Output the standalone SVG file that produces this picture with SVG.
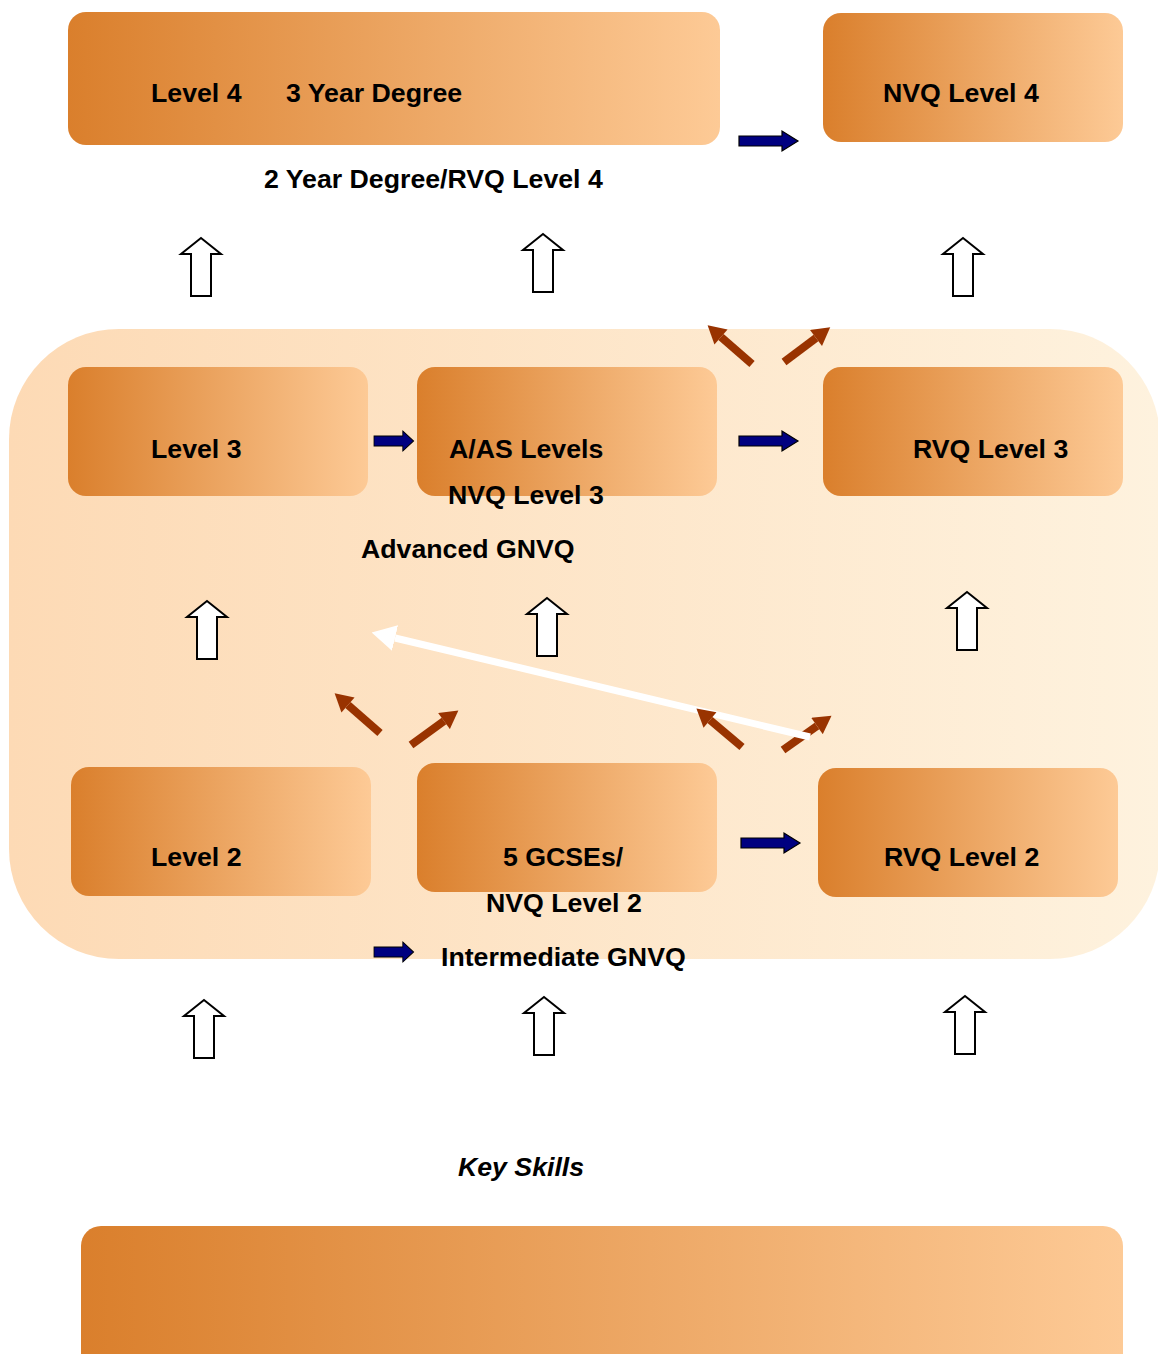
<svg xmlns="http://www.w3.org/2000/svg" width="1158" height="1354" viewBox="0 0 1158 1354">
<defs>
<linearGradient id="gBox" x1="0" y1="0" x2="1" y2="0">
<stop offset="0" stop-color="#DA7F2C"/>
<stop offset="1" stop-color="#FDCA96"/>
</linearGradient>
<linearGradient id="gBg" x1="0" y1="0" x2="1" y2="0">
<stop offset="0" stop-color="#FDDAB5"/>
<stop offset="1" stop-color="#FEF2DE"/>
</linearGradient>
<marker id="mBrown" markerUnits="userSpaceOnUse" markerWidth="20" markerHeight="20" refX="0" refY="9" orient="auto" viewBox="0 0 16 18">
<path d="M0,0 L16,9 L0,18 Z" fill="#993300"/>
</marker>
<marker id="mWhite" markerUnits="userSpaceOnUse" markerWidth="24" markerHeight="26" refX="0" refY="13" orient="auto" viewBox="0 0 24 26">
<path d="M0,0 L24,13 L0,26 Z" fill="#FFFFFF"/>
</marker>
<path id="blue" d="M0,-5 L43,-5 L43,-10 L59,0 L43,10 L43,5 L0,5 Z"/>
<path id="hollow" d="M0,0 L20,16 L10,16 L10,58 L-10,58 L-10,16 L-20,16 Z"/>
</defs>
<style>
.box{fill:url(#gBox)}
.t{font-family:"Liberation Sans",Arial,sans-serif;font-weight:bold;font-size:26.7px;fill:#000}
.bl{fill:#000080;stroke:#000;stroke-width:1.2}
.ho{fill:#FFFFFF;stroke:#000;stroke-width:2}
.br{stroke:#993300;stroke-width:8;fill:none;marker-end:url(#mBrown)}
.wh{stroke:#FFFFFF;stroke-width:7;fill:none;marker-end:url(#mWhite)}
</style>
<rect x="0" y="0" width="1158" height="1354" fill="#FFFFFF"/>
<rect id="background" x="9" y="329" width="1151" height="630" rx="110" ry="110" fill="url(#gBg)"/>

<g id="n-level4"><rect class="box" x="68" y="12" width="652" height="133" rx="18"/><text class="t" x="151" y="102">Level 4</text><text class="t" x="286" y="102">3 Year Degree</text></g>
<g id="n-nvq4"><rect class="box" x="823" y="13" width="300" height="129" rx="18"/><text class="t" x="883" y="102">NVQ Level 4</text></g>
<g id="n-2year"><text class="t" x="264" y="188">2 Year Degree/RVQ Level 4</text></g>
<g id="n-level3"><rect class="box" x="68" y="367" width="300" height="129" rx="18"/><text class="t" x="151" y="458">Level 3</text></g>
<g id="n-alevels"><rect class="box" x="417" y="367" width="300" height="129" rx="18"/><text class="t" x="449" y="458">A/AS Levels</text><text class="t" x="448" y="504">NVQ Level 3</text><text class="t" x="361" y="558">Advanced GNVQ</text></g>
<g id="n-rvq3"><rect class="box" x="823" y="367" width="300" height="129" rx="18"/><text class="t" x="913" y="458">RVQ Level 3</text></g>
<g id="n-level2"><rect class="box" x="71" y="767" width="300" height="129" rx="18"/><text class="t" x="151" y="866">Level 2</text></g>
<g id="n-gcse"><rect class="box" x="417" y="763" width="300" height="129" rx="18"/><text class="t" x="503" y="866">5 GCSEs/</text><text class="t" x="486" y="912">NVQ Level 2</text><text class="t" x="441" y="966">Intermediate GNVQ</text></g>
<g id="n-rvq2"><rect class="box" x="818" y="768" width="300" height="129" rx="18"/><text class="t" x="884" y="866">RVQ Level 2</text></g>
<g id="n-keyskills"><text class="t" x="458" y="1176" font-style="italic">Key Skills</text><rect class="box" x="81" y="1226" width="1042" height="160" rx="20"/></g>

<g id="connectors">
<use href="#blue" class="bl" x="739" y="141"/>
<use href="#blue" class="bl" transform="translate(374,441) scale(0.67,1)"/>
<use href="#blue" class="bl" x="739" y="441"/>
<use href="#blue" class="bl" x="741" y="843"/>
<use href="#blue" class="bl" transform="translate(374,952) scale(0.67,1)"/>

<use href="#hollow" class="ho" x="201" y="238"/>
<use href="#hollow" class="ho" x="543" y="234"/>
<use href="#hollow" class="ho" x="963" y="238"/>
<use href="#hollow" class="ho" x="207" y="601"/>
<use href="#hollow" class="ho" x="547" y="598"/>
<use href="#hollow" class="ho" x="967" y="592"/>
<use href="#hollow" class="ho" x="204" y="1000"/>
<use href="#hollow" class="ho" x="544" y="997"/>
<use href="#hollow" class="ho" x="965" y="996"/>

<line class="br" x1="752" y1="364" x2="721" y2="337"/>
<line class="br" x1="784" y1="362" x2="816" y2="338"/>
<line class="br" x1="380" y1="733" x2="348" y2="705"/>
<line class="br" x1="411" y1="745" x2="444" y2="721"/>
<line class="br" x1="783" y1="750" x2="817" y2="726"/>
<line class="wh" x1="810" y1="737" x2="395" y2="638"/>
<line class="br" x1="742" y1="747" x2="710" y2="720"/>
</g>
</svg>
